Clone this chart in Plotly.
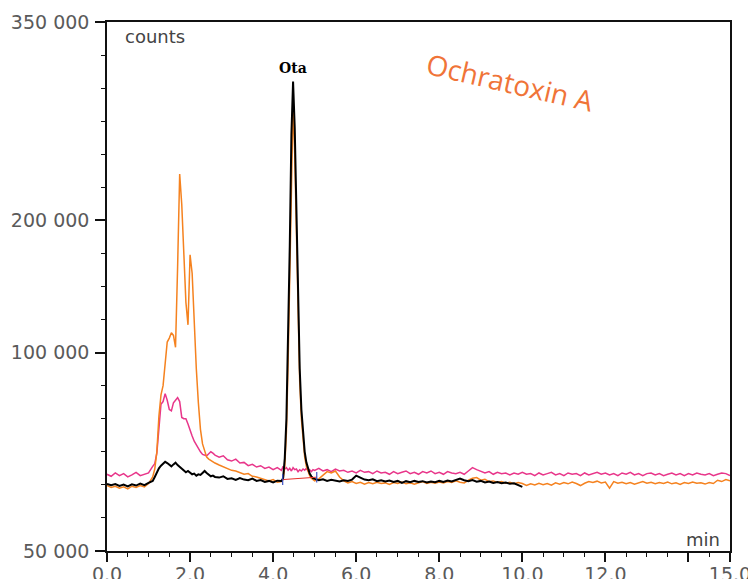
import plotly.graph_objects as go

# ---------------- data (retention time in min, signal in counts) ----------------
t_seg_a = [0.0, 0.1, 0.2, 0.3, 0.4, 0.5, 0.6, 0.7, 0.8, 0.9, 1.0, 1.1]
t_seg_b = [1.15, 1.20, 1.25, 1.30, 1.35, 1.40, 1.45, 1.50, 1.55, 1.60,
           1.65, 1.70, 1.75, 1.80, 1.85, 1.90, 1.95, 2.00, 2.05, 2.10,
           2.15, 2.20, 2.25, 2.30, 2.35, 2.40, 2.45, 2.50, 2.55, 2.60]
t_seg_c = [2.7, 2.8, 2.9, 3.0, 3.1, 3.2, 3.3, 3.4, 3.5, 3.6, 3.7, 3.8, 3.9, 4.0, 4.1, 4.2]
t_seg_d = [4.24, 4.28, 4.32, 4.36, 4.40, 4.44, 4.48, 4.52, 4.56, 4.60,
           4.64, 4.68, 4.72, 4.76, 4.80, 4.84, 4.88, 4.92, 4.96]
t_seg_e = [5.0, 5.1, 5.2, 5.3, 5.4, 5.5, 5.6, 5.7, 5.8, 5.9,
           6.0, 6.1, 6.2, 6.3, 6.4, 6.5, 6.6, 6.7, 6.8, 6.9,
           7.0, 7.1, 7.2, 7.3, 7.4, 7.5, 7.6, 7.7, 7.8, 7.9,
           8.0, 8.1, 8.2, 8.3, 8.4, 8.5, 8.6, 8.7, 8.8, 8.9,
           9.0, 9.1, 9.2, 9.3, 9.4, 9.5, 9.6, 9.7, 9.8, 9.9,
           10.0, 10.1, 10.2, 10.3, 10.4, 10.5, 10.6, 10.7, 10.8, 10.9,
           11.0, 11.1, 11.2, 11.3, 11.4, 11.5, 11.6, 11.7, 11.8, 11.9,
           12.0, 12.1, 12.2, 12.3, 12.4, 12.5, 12.6, 12.7, 12.8, 12.9,
           13.0, 13.1, 13.2, 13.3, 13.4, 13.5, 13.6, 13.7, 13.8, 13.9,
           14.0, 14.1, 14.2, 14.3, 14.4, 14.5, 14.6, 14.7, 14.8, 14.9,
           15.0]

# black trace (sample), recorded 0-10 min
black_a = [800, -300, 600, -800, 200, -1200, 400, -500, 900, -200, 1500, 3000]
black_b = [6000, 9500, 12500, 14500, 16000, 17500, 16500, 15500, 14000, 15500,
           16800, 15000, 13500, 12500, 11000, 9500, 10500, 9000, 8000, 8500,
           7000, 8000, 7500, 9000, 10500, 9000, 7500, 6500, 7000, 6000]
black_c = [5500, 6500, 4500, 5000, 3800, 5200, 4000, 3500, 4800, 3000, 3600, 2200, 3000, 1800, 3200, 3000]
black_d = [5000, 20000, 50000, 105000, 180000, 265000, 305000, 270000, 200000, 135000,
           88000, 57000, 37000, 25000, 17000, 12000, 8500, 6500, 5000]
black_e = [4500, 3500, 4200, 3000, 3800, 3200, 2500, 3500, 3000, 4000,
           7000, 5500, 4000, 3500, 4200, 2800, 3500, 2500, 3200, 2200,
           3000, 1500, 2800, 2000, 3000, 2200, 2800, 1800, 2600, 2000,
           3000, 2200, 3200, 2600, 3800, 4800, 3500, 2800, 3600, 2400,
           3000, 1800, 2600, 1500, 2200, 1200, 1800, 800, 1200, 0,
           -1500]

# orange trace
orange_a = [-500, -2000, -1000, -2500, -1500, -3000, -1000, -2000, -500, -1500, 1000, 6000]
orange_b = [12000, 25000, 52000, 68000, 75000, 95000, 108000, 111000, 115000, 113000,
            104000, 165000, 235000, 212000, 175000, 138000, 121000, 174000, 160000, 122000,
            88000, 62000, 42000, 31000, 25000, 21000, 19500, 18500, 17000, 16500]
orange_c = [15000, 13500, 12500, 11000, 10500, 9000, 8000, 8500, 6500, 6000, 5000, 4500, 3000, 4000, 2000, 2500]
orange_d = [4000, 14000, 40000, 92000, 162000, 245000, 287000, 250000, 185000, 122000,
            78000, 50000, 32000, 21000, 14000, 10000, 7000, 5000, 4000]
orange_e = [3000, 4500, 7000, 10000, 9000, 10500, 6000, 3000, 1500, 2500,
            1000, 2000, 500, 1800, 800, 2000, 1000, 1500, 300, 1800,
            1000, 2200, 800, 1600, 500, 1800, 2500, 1000, 2000, 1200,
            2200, 1500, 2600, 1800, 3000, 2000, 1500, 3500, 5000, 5500,
            3500, 4200, 2500, 3000, 1800, 2500, 1200, 2000, 800, 1800,
            1000, -500, 800, 0, 1200, 200, 1000, -300, 1500, 500,
            1800, 800, 2200, 1000, -500, 1200, 2500, 1800, 2800, 1500,
            2200, -2500, 2500, 1200, 2000, 800, 1800, 500, 1500, 2500,
            1200, 2000, 800, 1800, 1000, 2200, 800, 1500, 300, 1800,
            1000, 2200, 1200, 1600, 600, 1800, 1000, 3500, 2500, 4000,
            3000]

# pink trace
pink_a = [8000, 6500, 9000, 7000, 8500, 6000, 7500, 9500, 7000, 8000, 9000, 14000]
pink_b = [16000, 24000, 45000, 61000, 63000, 69000, 64000, 57000, 56000, 62000,
          64000, 66000, 63000, 51000, 50000, 50000, 46000, 41000, 37000, 33000,
          30000, 27000, 25000, 23000, 22500, 22000, 23500, 25000, 24000, 22500]
pink_c = [21000, 22000, 19000, 18000, 19500, 16500, 17000, 14500, 15500, 13500, 14500, 12500, 13500, 11500, 13000, 11000]
pink_d = [14000, 12000, 13000, 11000, 12500, 10500, 13000, 11500, 12000, 10000,
          11500, 10500, 12000, 11000, 12500, 10500, 11500, 10000, 11500]
pink_e = [11000, 12500, 10500, 11500, 10000, 12000, 10500, 11000, 9500, 10500,
          9000, 11000, 9500, 10000, 8500, 10500, 9000, 9500, 8000, 10000,
          8500, 9500, 10500, 8500, 9500, 8000, 10000, 9000, 10500, 8500,
          9500, 8000, 10000, 9000, 8500, 9500, 8000, 10500, 13000, 11500,
          10000, 9000, 10000, 8000, 9500, 8500, 9000, 7500, 9000, 8000,
          9500, 8000, 8500, 7000, 9000, 7500, 8500, 9500, 7500, 8500,
          7000, 9000, 8000, 8500, 7000, 9000, 7500, 8500, 9500, 8000,
          9000, 7500, 8500, 7000, 9000, 8000, 9500, 7500, 8500, 7000,
          8500, 9000, 7500, 8500, 7000, 8000, 9000, 7500, 8500, 7000,
          8500, 7500, 9000, 8000, 7500, 8500, 7000, 8000, 9000, 8500,
          7000]

# integration baseline of the Ota peak
ota_limits_t = [4.23, 5.05]
ota_limits_v = [4000, 5800]
ota_label = "Ota"
ota_peak_t = 4.47
ota_peak_v = 307000

# axis ticks
x_tick_vals = [0, 2, 4, 6, 8, 10, 12, 14, 15]
x_tick_text = ["0.0", "2.0", "4.0", "6.0", "8.0", "10.0", "12.0", "", "15.0"]
y_tick_vals = [-50000, 100000, 200000, 350000]
y_tick_text = ["50 000", "100 000", "200 000", "350 000"]

# ---------------- build ----------------
t_full = t_seg_a + t_seg_b + t_seg_c + t_seg_d + t_seg_e
t_black = t_seg_a + t_seg_b + t_seg_c + t_seg_d + [t for t in t_seg_e if t <= 10.0]
black = black_a + black_b + black_c + black_d + black_e
orange = orange_a + orange_b + orange_c + orange_d + orange_e
pink = pink_a + pink_b + pink_c + pink_d + pink_e

fig = go.Figure()
fig.add_trace(go.Scatter(x=t_full, y=pink, mode="lines",
                         line=dict(color="#E8368A", width=1.5), hoverinfo="skip"))
fig.add_trace(go.Scatter(x=t_full, y=orange, mode="lines",
                         line=dict(color="#F5821F", width=1.5), hoverinfo="skip"))
fig.add_trace(go.Scatter(x=t_black, y=black, mode="lines",
                         line=dict(color="#000000", width=2), hoverinfo="skip"))
# integration baseline
fig.add_trace(go.Scatter(x=ota_limits_t, y=ota_limits_v, mode="lines",
                         line=dict(color="#E8302A", width=1), hoverinfo="skip"))
for tt, vv in zip(ota_limits_t, ota_limits_v):
    fig.add_trace(go.Scatter(x=[tt, tt], y=[vv - 4000, vv + 4000], mode="lines",
                             line=dict(color="#3A4FC0", width=1.2), hoverinfo="skip"))

txt_family = "DejaVu Sans, Verdana, sans-serif"
tick_font = dict(family=txt_family, size=19, color="#5a5a5a")

# the page body adds an 8 px offset, margins compensate so the plot spans x 107-730, y 22-551
fig.update_layout(
    width=756, height=579,
    margin=dict(l=99, r=34, t=14, b=36, autoexpand=False),
    paper_bgcolor="white", plot_bgcolor="white",
    showlegend=False,
    xaxis=dict(range=[0, 15], tickmode="array", tickvals=x_tick_vals, ticktext=x_tick_text,
               ticks="outside", ticklen=9, tickwidth=1.5, tickcolor="#111",
               showline=True, linecolor="#111", linewidth=1.5, mirror=True,
               showgrid=False, zeroline=False, tickfont=tick_font, automargin=False,
               ticklabelstandoff=-4,
               minor=dict(tickmode="linear", tick0=0, dtick=0.5, ticks="outside",
                          ticklen=4, tickwidth=1.2, tickcolor="#111", showgrid=False)),
    yaxis=dict(range=[-50000, 350000], tickmode="array", tickvals=y_tick_vals, ticktext=y_tick_text,
               ticks="outside", ticklen=10, tickwidth=1.5, tickcolor="#111",
               showline=True, linecolor="#111", linewidth=1.5, mirror=True,
               showgrid=False, zeroline=False, tickfont=tick_font, ticklabelstandoff=2,
               automargin=False,
               minor=dict(tickmode="linear", tick0=0, dtick=25000, ticks="outside",
                          ticklen=4, tickwidth=1.2, tickcolor="#111", showgrid=False)),
    annotations=[
        dict(text="counts", xref="paper", yref="paper", x=0.026, y=0.972,
             xanchor="left", yanchor="middle", showarrow=False,
             font=dict(family=txt_family, size=18, color="#444444")),
        dict(text="min", xref="paper", yref="paper", x=0.987, y=0.021,
             xanchor="right", yanchor="middle", showarrow=False,
             font=dict(family=txt_family, size=18, color="#444444")),
        dict(text="<b>" + ota_label + "</b>", xref="x", yref="y", x=ota_peak_t, y=ota_peak_v,
             xanchor="center", yanchor="bottom", yshift=1, showarrow=False,
             font=dict(family="DejaVu Serif, Liberation Serif, serif", size=14, color="#000000")),
        dict(text="Ochratoxin A", xref="paper", yref="paper", x=0.647, y=0.887,
             xanchor="center", yanchor="middle", showarrow=False, textangle=13,
             font=dict(family="Open Sans, sans-serif", size=28, color="#F07438")),
    ],
)

fig.write_html("out.html")
